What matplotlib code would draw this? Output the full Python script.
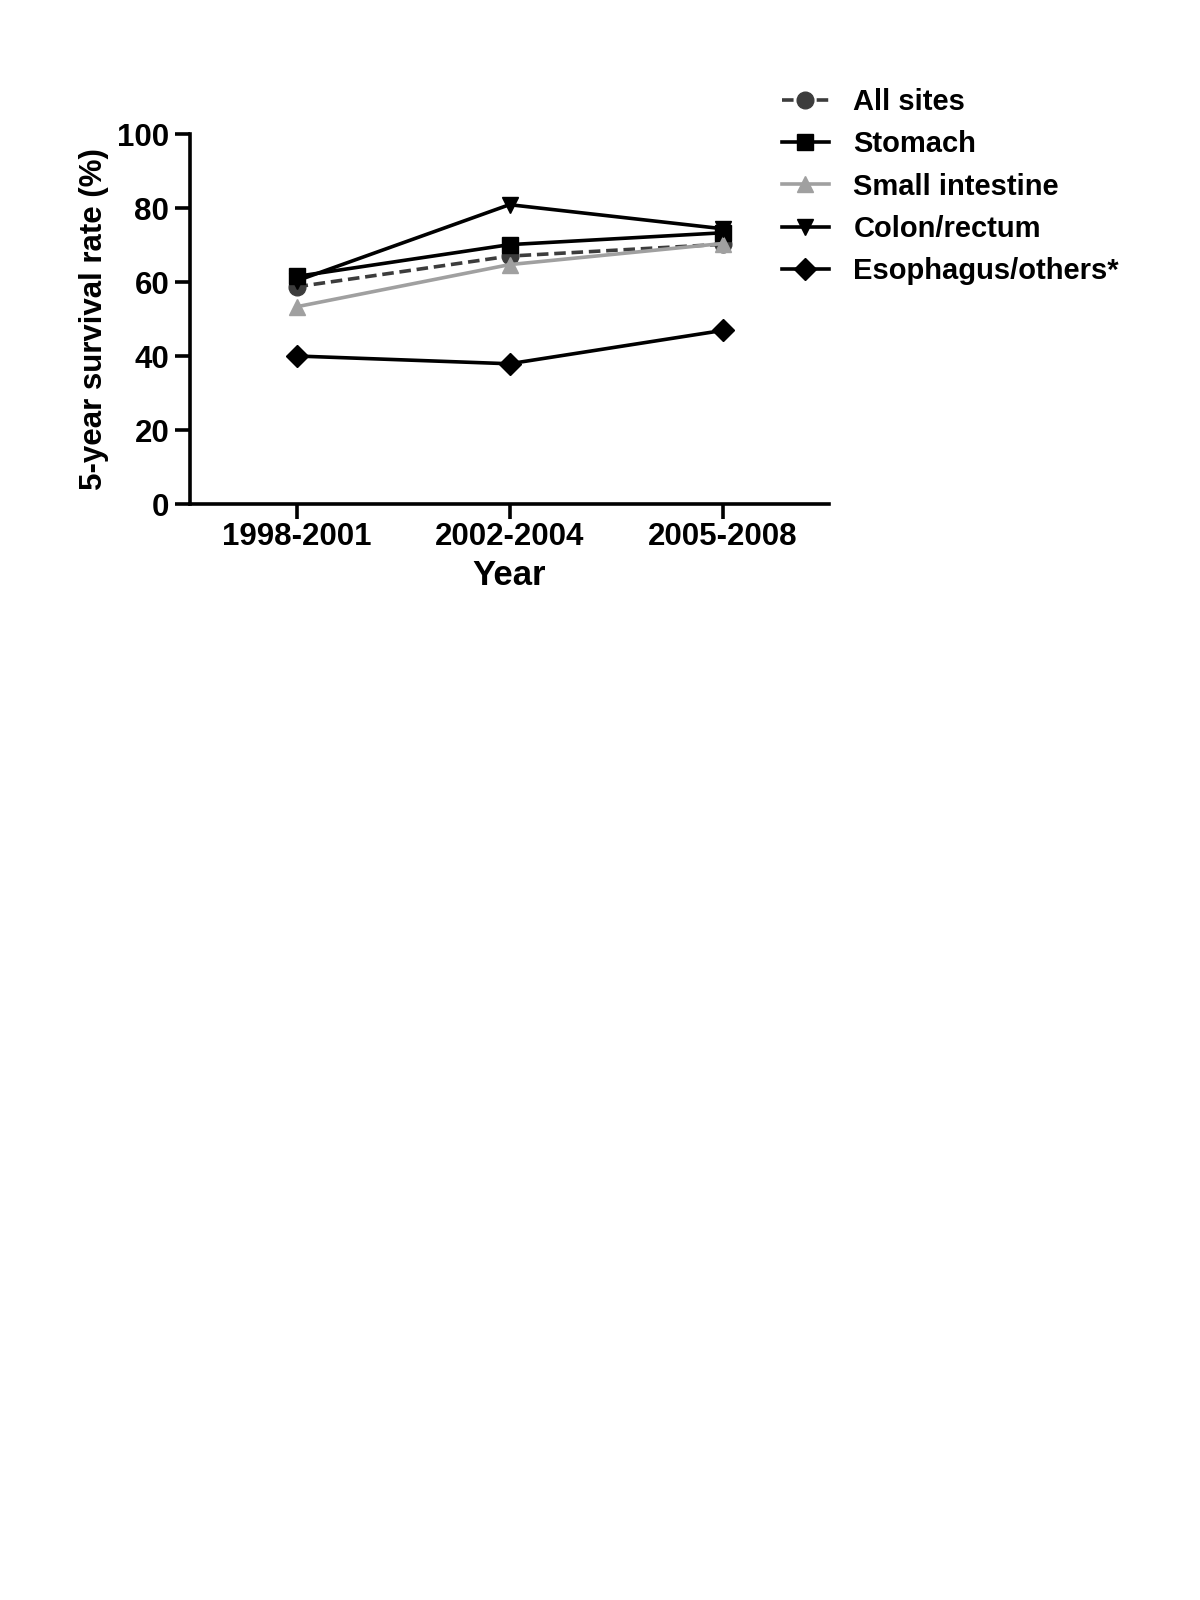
import matplotlib
matplotlib.use("Agg")
import matplotlib.pyplot as plt

plt.rcParams['font.family'] = ['Liberation Sans', 'DejaVu Sans']

categories = ["1998-2001", "2002-2004", "2005-2008"]
all_sites = [58.7, 67.0, 70.2]
stomach = [61.5, 70.1, 73.3]
small_intestine = [53.3, 64.7, 70.4]
colon_rectum = [60.3, 80.9, 74.4]
esophagus_others = [40.0, 37.9, 46.9]

series = [
    ("All sites", all_sites, dict(color="#3c3c3c", ls=(0, (3.2, 1.6)), marker="o")),
    ("Stomach", stomach, dict(color="black", ls="-", marker="s")),
    ("Small intestine", small_intestine, dict(color="#a0a0a0", ls="-", marker="^")),
    ("Colon/rectum", colon_rectum, dict(color="black", ls="-", marker="v")),
    ("Esophagus/others*", esophagus_others, dict(color="black", ls="-", marker="D")),
]

fig = plt.figure(figsize=(12, 16), dpi=100)
ax = fig.add_axes([190/1200, 1-504/1600, (829-190)/1200, (504-134)/1600])

x = list(range(len(categories)))
handles = []
for name, vals, st in series:
    ms = 11 if st["marker"] == "D" else 12
    h, = ax.plot(x, vals, color=st["color"], ls=st["ls"], lw=2.6, marker=st["marker"],
                 ms=ms, mfc=st["color"], mec=st["color"], label=name, clip_on=False)
    handles.append(h)

ax.set_xlim(-0.5, 2.5)
ax.set_ylim(0, 100)
ax.set_yticks([0, 20, 40, 60, 80, 100])
ax.set_xticks(x)
ax.set_xticklabels(categories)
for s in ["top", "right"]:
    ax.spines[s].set_visible(False)
for s in ["left", "bottom"]:
    ax.spines[s].set_linewidth(2.6)
ax.tick_params(axis="both", direction="out", length=11, width=2.6, labelsize=22.5)
ax.tick_params(axis="x", pad=2)
ax.tick_params(axis="y", pad=4)
for lab in ax.get_xticklabels() + ax.get_yticklabels():
    lab.set_fontweight("bold")

ax.set_xlabel("Year", fontsize=25, fontweight="bold", labelpad=5)
ax.set_ylabel("5-year survival rate (%)", fontsize=22.5, fontweight="bold", labelpad=6)

leg = ax.legend(handles=handles, loc="upper left", bbox_to_anchor=(782/1200, 1-88/1600),
                bbox_transform=fig.transFigure, frameon=False, fontsize=21,
                handlelength=1.6, handletextpad=0.85, labelspacing=0.49, borderaxespad=0,
                borderpad=0)
for t in leg.get_texts():
    t.set_fontweight("bold")

fig.savefig("out.png", dpi=100)
